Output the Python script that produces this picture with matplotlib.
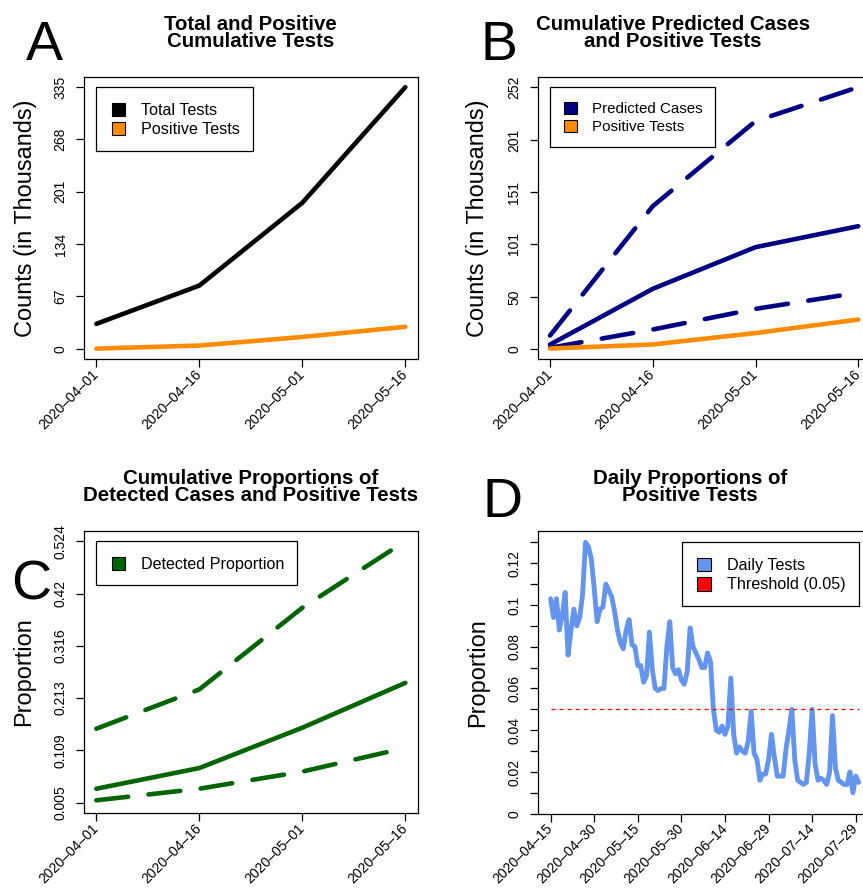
import numpy as np
import matplotlib
matplotlib.use('Agg')
import matplotlib.pyplot as plt
import matplotlib.dates as mdates
from matplotlib.patches import Patch, Rectangle
from matplotlib.legend_handler import HandlerPatch

plt.rcParams['font.family'] = ['Liberation Sans', 'DejaVu Sans']
plt.rcParams['lines.scale_dashes'] = False

# ---------------- data ----------------
cum_dates = np.array(['2020-04-01', '2020-04-16', '2020-05-01', '2020-05-16'], dtype='datetime64[D]')
cum_tick_labels = ['2020\u201304\u201301', '2020\u201304\u201316', '2020\u201305\u201301', '2020\u201305\u201316']

total_tests = [32.0, 81.0, 187.0, 335.0]
positive_tests = [0.3, 4.2, 15.2, 28.2]

pred_mid = [4.1, 57.8, 97.9, 118.1]
pred_upper = [12.8, 137.4, 219.3, 252.0]
pred_lower = [1.0, 18.6, 38.5, 54.0]

det_mid = [0.033, 0.074, 0.154, 0.243]
det_upper = [0.152, 0.230, 0.392, 0.524]
det_lower = [0.010, 0.033, 0.067, 0.114]

ticks_a = [0, 67, 134, 201, 268, 335]
ticks_b = [0, 50, 101, 151, 201, 252]
ticks_c = [0.005, 0.109, 0.213, 0.316, 0.42, 0.524]
tick_labels_c = ['0.005', '0.109', '0.213', '0.316', '0.42', '0.524']

daily_start = np.datetime64('2020-04-15')
daily_prop = [
    0.103, 0.094, 0.103, 0.088, 0.095, 0.106, 0.076, 0.088, 0.098, 0.090,
    0.094, 0.105, 0.130, 0.128, 0.122, 0.108, 0.092, 0.098, 0.099, 0.110,
    0.107, 0.104, 0.097, 0.088, 0.082, 0.079, 0.088, 0.093, 0.081, 0.080,
    0.071, 0.071, 0.063, 0.066, 0.087, 0.069, 0.060, 0.059, 0.060, 0.060,
    0.080, 0.092, 0.070, 0.067, 0.069, 0.064, 0.062, 0.068, 0.089, 0.080,
    0.077, 0.074, 0.070, 0.070, 0.077, 0.073, 0.050, 0.040, 0.039, 0.042,
    0.038, 0.042, 0.065, 0.038, 0.029, 0.032, 0.030, 0.029, 0.035, 0.049,
    0.029, 0.026, 0.016, 0.019, 0.019, 0.026, 0.038, 0.027, 0.018, 0.018,
    0.018, 0.031, 0.040, 0.050, 0.026, 0.016, 0.015, 0.014, 0.015, 0.029,
    0.050, 0.024, 0.016, 0.017, 0.016, 0.014, 0.020, 0.047, 0.022, 0.016,
    0.015, 0.014, 0.014, 0.020, 0.010, 0.018, 0.015]
daily_dates = daily_start + np.arange(len(daily_prop))
threshold = 0.05
daily_ticks = np.array(['2020-04-15', '2020-04-30', '2020-05-15', '2020-05-30',
                        '2020-06-14', '2020-06-29', '2020-07-14', '2020-07-29'], dtype='datetime64[D]')
daily_tick_labels = [str(d).replace('-', '\u2013') for d in daily_ticks]
ticks_d = [round(0.01 * i, 2) for i in range(14)]
tick_labels_d = ['0', '', '0.02', '', '0.04', '', '0.06', '', '0.08', '', '0.1', '', '0.12', '']

# colors
C_BLACK = 'black'
C_ORANGE = '#FF8C00'
C_NAVY = '#000080'
C_GREEN = '#006400'
C_BLUE = '#6495ED'
C_RED = '#FF0000'

# ---------------- figure ----------------
W, H = 863, 888
fig = plt.figure(figsize=(W / 100, H / 100), dpi=100)


def add_ax(l, t, w, h):
    return fig.add_axes([l / W, 1 - (t + h) / H, w / W, h / H])


LW = 3.3
DASH = (23.0, 14.8)
TICK_FS = 10
LAB_FS = 16.9
LEG_FS = 11.6
TITLE_FS = 14.7
SQ = 9.6  # legend square size in points


def style_axes(ax):
    for s in ax.spines.values():
        s.set_linewidth(0.9)
        s.set_color('black')
    ax.tick_params(axis='both', direction='out', length=5.8, width=0.9, labelsize=TICK_FS)
    ax.tick_params(axis='y', pad=6.0)
    ax.tick_params(axis='x', pad=3.5)


def pad_lim(lo, hi, frac=0.04):
    span = hi - lo
    return lo - frac * span, hi + frac * span


def set_date_xlim(ax, d0, d1):
    n0, n1 = mdates.date2num(d0), mdates.date2num(d1)
    ax.set_xlim(*pad_lim(n0, n1))


def set_xticks(ax, dates, labels):
    ax.set_xticks(mdates.date2num(dates))
    ax.set_xticklabels(labels, rotation=45, ha='right', va='center', rotation_mode='anchor')


def set_yticks(ax, ticks, labels):
    ax.set_yticks(ticks)
    ax.set_yticklabels(labels, rotation=90, va='center', ha='right')


def make_square(size):
    def square_patch(legend, orig_handle, xdescent, ydescent, width, height, fontsize):
        cx = -xdescent + width / 2
        cy = -ydescent + height / 2
        return Rectangle((cx - size / 2, cy - size / 2), size, size)
    return square_patch


def add_legend(ax, labels, colors, xy, loc, scale=1.0):
    handles = [Patch(facecolor=c, edgecolor='black', linewidth=0.8) for c in colors]
    leg = ax.legend(handles, labels, loc=loc,
                    bbox_to_anchor=(mdates.date2num(xy[0]), xy[1]),
                    bbox_transform=ax.transData, fontsize=LEG_FS * scale, frameon=True,
                    fancybox=False, edgecolor='black', framealpha=1, borderpad=0.835,
                    handlelength=1.04, handleheight=1.26, handletextpad=0.875,
                    labelspacing=0.143, borderaxespad=0,
                    handler_map={Patch: HandlerPatch(patch_func=make_square(SQ * scale))})
    leg.get_frame().set_linewidth(0.9)
    return leg


def ylabel(ax, text, px_offset, width_px):
    ax.set_ylabel(text, fontsize=LAB_FS)
    ax.yaxis.set_label_coords(-px_offset / width_px, 0.5)


# ---------- Panel A ----------
axA = add_ax(84, 76.7, 333.7, 282.6)
style_axes(axA)
axA.plot(cum_dates, total_tests, color=C_BLACK, lw=LW, solid_capstyle='round', solid_joinstyle='round')
axA.plot(cum_dates, positive_tests, color=C_ORANGE, lw=LW, solid_capstyle='round', solid_joinstyle='round')
set_date_xlim(axA, cum_dates[0], cum_dates[-1])
axA.set_ylim(*pad_lim(ticks_a[0], ticks_a[-1]))
set_xticks(axA, cum_dates, cum_tick_labels)
set_yticks(axA, ticks_a, [str(t) for t in ticks_a])
ylabel(axA, 'Counts (in Thousands)', 47, 333.7)
add_legend(axA, ['Total Tests', 'Positive Tests'], [C_BLACK, C_ORANGE],
           (cum_dates[0], max(total_tests)), 'upper left')

# ---------- Panel B ----------
axB = add_ax(537.7, 76.7, 332.9, 282.6)
style_axes(axB)
axB.plot(cum_dates, pred_upper, color=C_NAVY, lw=LW, dashes=DASH, dash_capstyle='round', dash_joinstyle='round')
axB.plot(cum_dates, pred_mid, color=C_NAVY, lw=LW, solid_capstyle='round', solid_joinstyle='round')
axB.plot(cum_dates, pred_lower, color=C_NAVY, lw=LW, dashes=DASH, dash_capstyle='round', dash_joinstyle='round')
axB.plot(cum_dates, positive_tests, color=C_ORANGE, lw=LW, solid_capstyle='round', solid_joinstyle='round')
set_date_xlim(axB, cum_dates[0], cum_dates[-1])
axB.set_ylim(*pad_lim(ticks_b[0], ticks_b[-1]))
set_xticks(axB, cum_dates, cum_tick_labels)
set_yticks(axB, ticks_b, [str(t) for t in ticks_b])
ylabel(axB, 'Counts (in Thousands)', 49, 332.9)
add_legend(axB, ['Predicted Cases', 'Positive Tests'], [C_NAVY, C_ORANGE],
           (cum_dates[0], max(pred_upper)), 'upper left', scale=0.94)

# ---------- Panel C ----------
axC = add_ax(84, 530.7, 333.7, 282.6)
style_axes(axC)
axC.plot(cum_dates, det_upper, color=C_GREEN, lw=LW, dashes=DASH, dash_capstyle='round', dash_joinstyle='round')
axC.plot(cum_dates, det_mid, color=C_GREEN, lw=LW, solid_capstyle='round', solid_joinstyle='round')
axC.plot(cum_dates, det_lower, color=C_GREEN, lw=LW, dashes=DASH, dash_capstyle='round', dash_joinstyle='round')
set_date_xlim(axC, cum_dates[0], cum_dates[-1])
axC.set_ylim(*pad_lim(ticks_c[0], ticks_c[-1]))
set_xticks(axC, cum_dates, cum_tick_labels)
set_yticks(axC, ticks_c, tick_labels_c)
ylabel(axC, 'Proportion', 49, 333.7)
add_legend(axC, ['Detected Proportion'], [C_GREEN],
           (cum_dates[0], max(det_upper)), 'upper left')

# ---------- Panel D ----------
axD = add_ax(538.3, 530.7, 332.7, 283.0)
style_axes(axD)
axD.plot(daily_dates, daily_prop, color=C_BLUE, lw=3.5, solid_capstyle='round', solid_joinstyle='round')
axD.plot(daily_dates, [threshold] * len(daily_dates), color=C_RED, lw=0.9, dashes=(2.9, 2.9))
set_date_xlim(axD, daily_dates[0], daily_dates[-1])
axD.set_ylim(0, max(daily_prop) * 1.043)
set_xticks(axD, daily_ticks, daily_tick_labels)
set_yticks(axD, ticks_d, tick_labels_d)
ylabel(axD, 'Proportion', 49, 332.7)
add_legend(axD, ['Daily Tests', 'Threshold (0.05)'], [C_BLUE, C_RED],
           (daily_dates[-1], max(daily_prop)), 'upper right')

# ---------- titles & panel letters ----------
def title(x, y1, line1, line2):
    for y, t in ((y1, line1), (y1 + 17.3, line2)):
        fig.text(x / W, 1 - y / H, t, ha='center', va='baseline', fontsize=TITLE_FS,
                 fontweight='bold')


title(250.5, 30, 'Total and Positive', 'Cumulative Tests')
title(673, 30, 'Cumulative Predicted Cases', 'and Positive Tests')
title(250.5, 484, 'Cumulative Proportions of', 'Detected Cases and Positive Tests')
title(690, 484, 'Daily Proportions of', 'Positive Tests')

for letter, x, y in [('A', 26, 60), ('B', 480, 60), ('C', 11, 600), ('D', 482, 517)]:
    fig.text(x / W, 1 - y / H, letter, ha='left', va='baseline', fontsize=40)

fig.savefig('out.png', dpi=100)
